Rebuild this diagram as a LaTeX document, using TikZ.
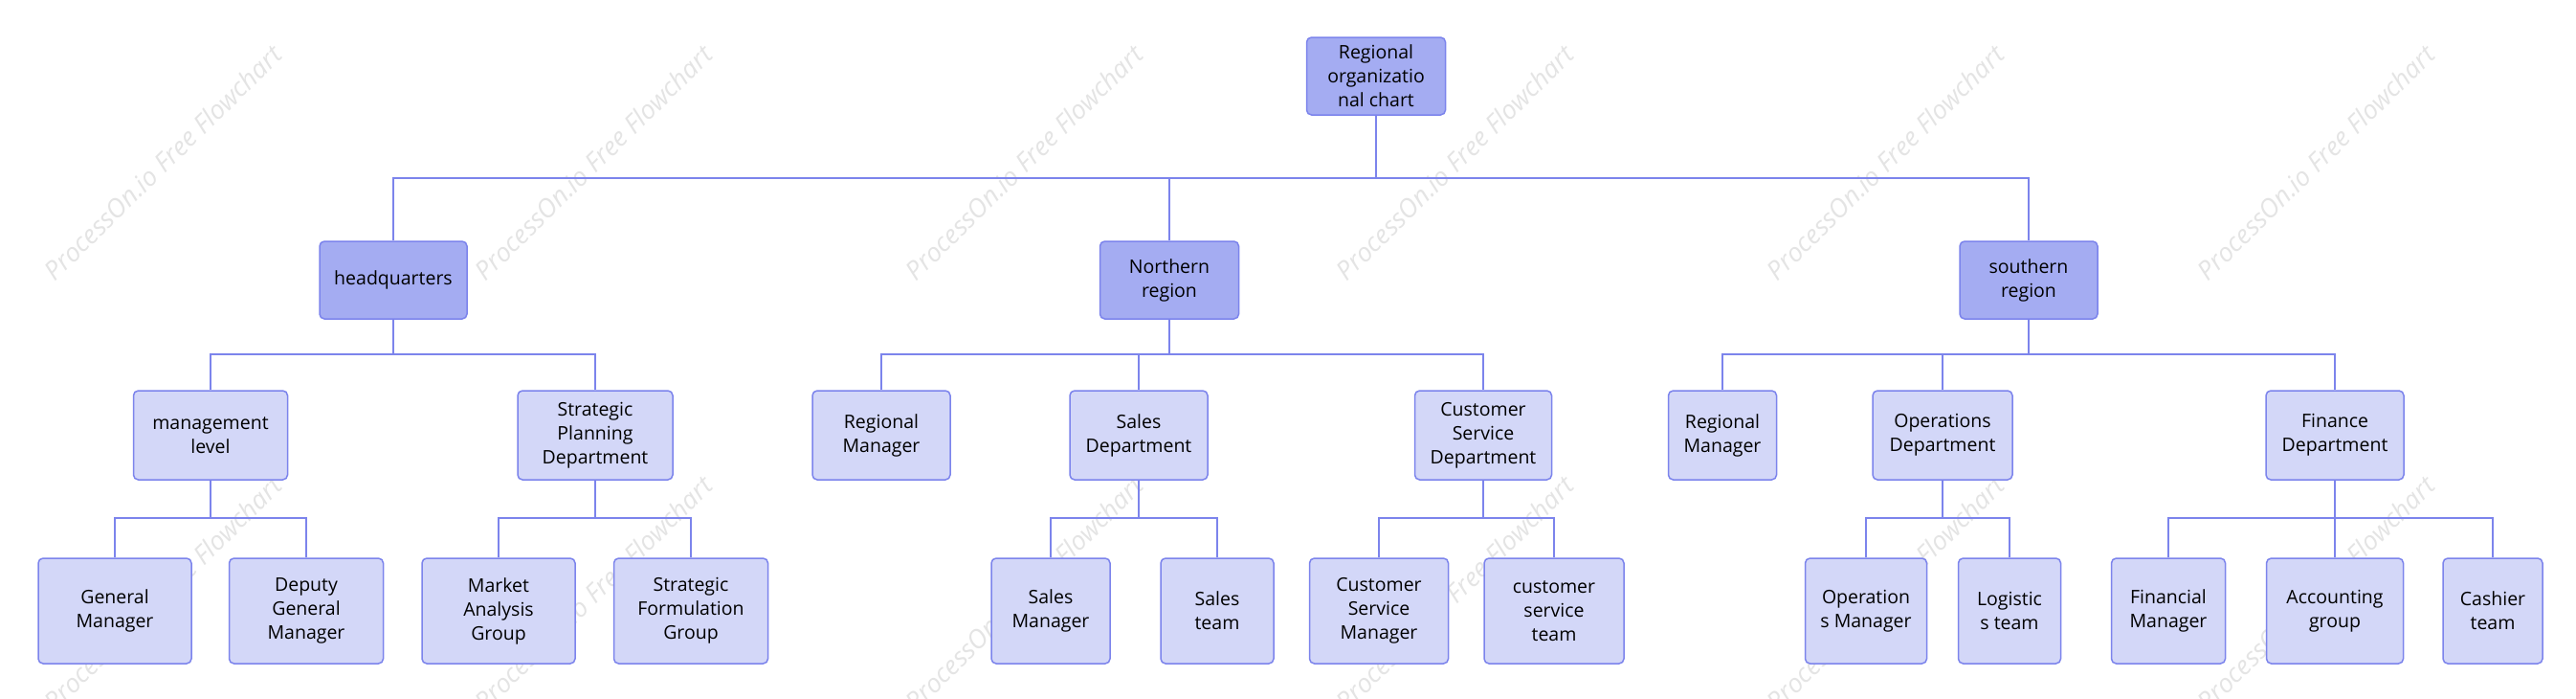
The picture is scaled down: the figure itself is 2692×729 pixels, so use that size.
\documentclass[tikz,border=0pt]{standalone}
\usepackage{fontspec}
\setmainfont{Open Sans}
\definecolor{dk}{HTML}{A4ACF2}
\definecolor{lt}{HTML}{D3D7F8}
\definecolor{bd}{HTML}{7C84EC}
\definecolor{wm}{HTML}{E4E4E4}
\tikzset{
  box/.style={rectangle, rounded corners=5pt, draw=bd, line width=1.5pt, inner sep=0pt, align=center,
    font=\fontsize{19.5}{25}\selectfont, text=black},
  topbox/.style={box, fill=dk, minimum height=81pt},
  midbox/.style={box, fill=lt, minimum height=93pt},
  lowbox/.style={box, fill=lt, minimum height=110pt},
  conn/.style={draw=bd, line width=2pt},
  wmark/.style={text=wm, rotate=44.5, font=\fontsize{27}{30}\selectfont\itshape, inner sep=0pt}
}
\begin{document}
\begin{tikzpicture}[x=1pt,y=-1pt]
\useasboundingbox[fill=white] (0,0) rectangle (2692,729);
% watermark
\foreach \cx [count=\i] in {170,620,1070,1520,1970,2420}{
  \foreach \cy [count=\j] in {170,620}{
    \node[wmark] (wm-\i-\j) at (\cx,\cy) {ProcessOn.io Free Flowchart};
  }
}
% bus levels
\coordinate (busA) at (0,186);
\coordinate (busB) at (0,370);
\coordinate (busC) at (0,541);
% level 0
\node[topbox, minimum width=145pt] (root) at (1438,79.5) {Regional\\organizatio\\nal chart};
% level 1
\node[topbox, minimum width=154pt] (hq) at (411,292.5) {headquarters};
\node[topbox, minimum width=145pt] (north) at (1222,292.5) {Northern\\region};
\node[topbox, minimum width=144pt] (south) at (2120,292.5) {southern\\region};
% level 2
\node[midbox, minimum width=161pt] (mgmt) at (220,454.5) {management\\level};
\node[midbox, minimum width=162pt] (spd) at (622,454.5) {Strategic\\Planning\\Department};
\node[midbox, minimum width=144pt] (regn) at (921,454.5) {Regional\\Manager};
\node[midbox, minimum width=144pt] (sales) at (1190,454.5) {Sales\\Department};
\node[midbox, minimum width=143pt] (csd) at (1550,454.5) {Customer\\Service\\Department};
\node[midbox, minimum width=113pt] (regs) at (1800,454.5) {Regional\\Manager};
\node[midbox, minimum width=146pt] (ops) at (2030,454.5) {Operations\\Department};
\node[midbox, minimum width=144pt] (fin) at (2440,454.5) {Finance\\Department};
% level 3
\node[lowbox, minimum width=160pt] (gm) at (120,638) {General\\Manager};
\node[lowbox, minimum width=161pt] (dgm) at (320,638) {Deputy\\General\\Manager};
\node[lowbox, minimum width=160pt] (mag) at (521,638) {Market\\Analysis\\Group};
\node[lowbox, minimum width=161pt] (sfg) at (722,638) {Strategic\\Formulation\\Group};
\node[lowbox, minimum width=124pt] (sm) at (1098,638) {Sales\\Manager};
\node[lowbox, minimum width=118pt] (st) at (1272,638) {Sales\\team};
\node[lowbox, minimum width=145pt] (csm) at (1441,638) {Customer\\Service\\Manager};
\node[lowbox, minimum width=146pt] (cst) at (1624,638) {customer\\service\\team};
\node[lowbox, minimum width=127pt] (om) at (1950,638) {Operation\\s Manager};
\node[lowbox, minimum width=107pt] (lt) at (2100,638) {Logistic\\s team};
\node[lowbox, minimum width=119pt] (fm) at (2266,638) {Financial\\Manager};
\node[lowbox, minimum width=143pt] (ag) at (2440,638) {Accounting\\group};
\node[lowbox, minimum width=104pt] (ct) at (2605,638) {Cashier\\team};
% connectors
\foreach \p/\b/\c in {root/busA/hq, root/busA/north, root/busA/south,
  hq/busB/mgmt, hq/busB/spd,
  north/busB/regn, north/busB/sales, north/busB/csd,
  south/busB/regs, south/busB/ops, south/busB/fin,
  mgmt/busC/gm, mgmt/busC/dgm, spd/busC/mag, spd/busC/sfg,
  sales/busC/sm, sales/busC/st, csd/busC/csm, csd/busC/cst,
  ops/busC/om, ops/busC/lt, fin/busC/fm, fin/busC/ag, fin/busC/ct}{
  \draw[conn] (\p.south) -- (\p.south |- \b) -| (\c.north);
}
\end{tikzpicture}
\end{document}
